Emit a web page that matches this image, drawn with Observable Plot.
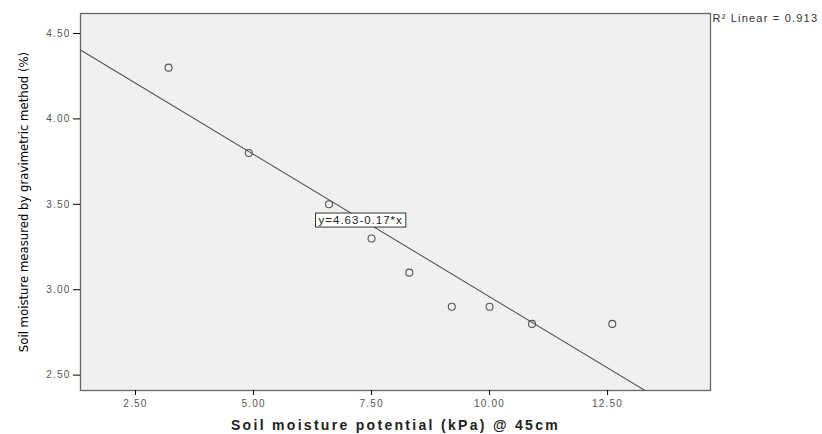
<!DOCTYPE html>
<html>
<head>
<meta charset="utf-8">
<script src="https://cdn.jsdelivr.net/npm/d3@7"></script>
<script src="https://cdn.jsdelivr.net/npm/@observablehq/plot@0.6"></script>
<style>
  html, body { margin: 0; padding: 0; background: #fff; }
  #chart svg { display: block; }
  #chart [aria-label="y-axis label"] text {
    font-family: "DejaVu Sans Condensed", "Liberation Sans Narrow", sans-serif;
    font-stretch: condensed; font-size: 13px; fill: #000;
  }
  #chart [aria-label="x-axis label"] text {
    font-family: "Liberation Sans", Arial, sans-serif; font-weight: bold;
    font-size: 14px; letter-spacing: 2.3px; fill: #222;
  }
  #chart [aria-label="x-axis tick label"] text,
  #chart [aria-label="y-axis tick label"] text { letter-spacing: 1.2px; }
  #chart .r2label text { letter-spacing: 1.2px; }
  #chart .fitlabel text { letter-spacing: 1px; }
</style>
</head>
<body>
<div id="chart"></div>
<script>
// Data
const potential = [3.2, 4.9, 6.6, 7.5, 8.3, 9.2, 10.0, 10.9, 12.6];
const moisture  = [4.3, 3.8, 3.5, 3.3, 3.1, 2.9, 2.9, 2.8, 2.8];
const xTicks = [2.5, 5.0, 7.5, 10.0, 12.5];
const yTicks = [2.5, 3.0, 3.5, 4.0, 4.5];
const xDomain = [1.335, 14.68];
const yDomain = [2.41, 4.617];
// Fitted line as drawn (SPSS label: y=4.63-0.17*x)
const fitIntercept = 4.626;
const fitSlope = -0.1667;
const fitLabel = "y=4.63-0.17*x";
const fitLabelPos = {x: 7.27, y: 3.406};
const r2Label = "R\u00B2 Linear = 0.913";
const xTitle = "Soil moisture potential (kPa) @ 45cm";
const yTitle = "Soil moisture measured by gravimetric method (%)";

const points = potential.map((x, i) => ({x, y: moisture[i]}));
const fitLine = xDomain.map(x => ({x, y: fitIntercept + fitSlope * x}));

const chart = Plot.plot({
  width: 822,
  height: 434,
  marginLeft: 80,
  marginRight: 112,
  marginTop: 13,
  marginBottom: 44,
  style: {fontFamily: "'Liberation Sans', Arial, sans-serif", background: "#fff"},
  x: {domain: xDomain},
  y: {domain: yDomain},
  marks: [
    Plot.frame({fill: "#f0f0f0", stroke: "none"}),
    Plot.line(fitLine, {x: "x", y: "y", stroke: "#555", strokeWidth: 1.1, clip: true}),
    Plot.dot(points, {x: "x", y: "y", r: 3.5, stroke: "#555", strokeWidth: 1.1, fill: "none"}),
    Plot.text([fitLabelPos], {x: "x", y: "y", text: () => fitLabel, fontSize: 11.5, fill: "#222", className: "fitlabel"}),
    Plot.text([r2Label], {frameAnchor: "top-right", dx: 2, dy: 1, textAnchor: "start", text: d => d, fontSize: 11, fill: "#333", className: "r2label"}),
    Plot.frame({stroke: "#666", strokeWidth: 1.3}),
    Plot.axisX({ticks: xTicks, tickFormat: d3.format(".2f"), tickSize: 5, tickPadding: 4, fontSize: 10, fill: "#555",
      label: xTitle, labelAnchor: "center", labelArrow: "none", labelOffset: 39}),
    Plot.axisY({ticks: yTicks, tickFormat: d3.format(".2f"), tickSize: 7, tickPadding: 3, fontSize: 10, fill: "#555",
      label: yTitle, labelAnchor: "center", labelArrow: "none", labelOffset: 62})
  ]
});
document.getElementById("chart").appendChild(chart);

// white boxed background for the equation label
const g = chart.querySelector(".fitlabel");
if (g) {
  g.querySelectorAll("text").forEach(t => {
    const b = t.getBBox();
    const rect = document.createElementNS("http://www.w3.org/2000/svg", "rect");
    rect.setAttribute("x", b.x - 3);
    rect.setAttribute("y", b.y - 1);
    rect.setAttribute("width", b.width + 6);
    rect.setAttribute("height", b.height + 2);
    rect.setAttribute("fill", "#fff");
    rect.setAttribute("stroke", "#333");
    rect.setAttribute("stroke-width", "1");
    const tr = t.getAttribute("transform");
    if (tr) rect.setAttribute("transform", tr);
    t.parentNode.insertBefore(rect, t);
  });
}
</script>
</body>
</html>
